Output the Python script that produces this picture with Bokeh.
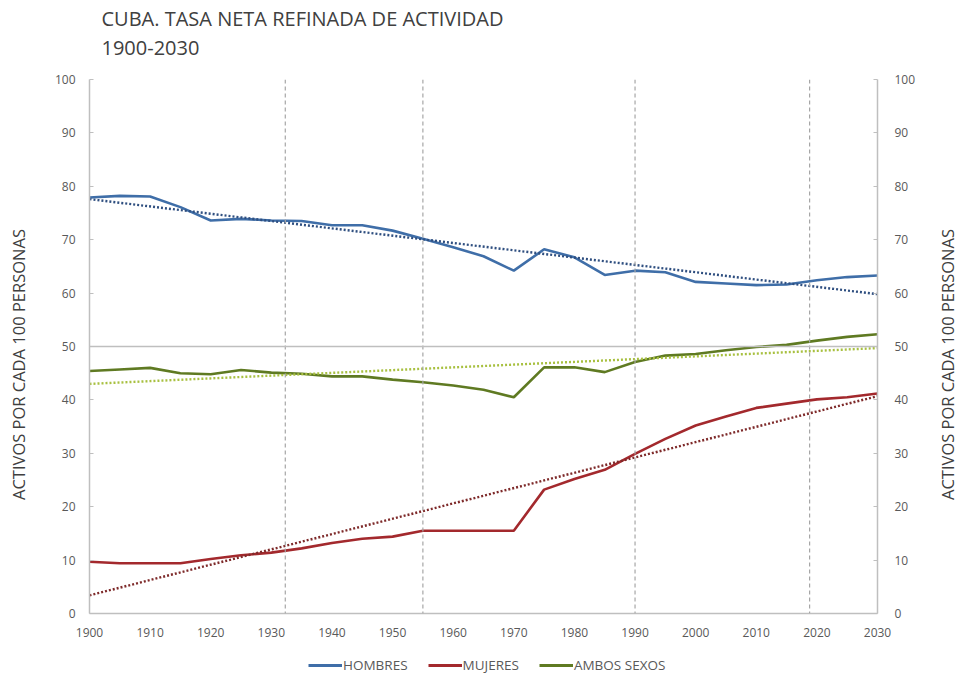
import math
from bokeh.plotting import figure
from bokeh.layouts import column, row
from bokeh.models import (Range1d, LinearAxis, Span, Legend, LegendItem, Label,
                          SingleIntervalTicker, ColumnDataSource)
from bokeh.embed import file_html
from bokeh.resources import INLINE

# ---- data ----
years = [1900, 1905, 1910, 1915, 1920, 1925, 1930, 1935, 1940, 1945, 1950, 1955,
         1960, 1965, 1970, 1975, 1980, 1985, 1990, 1995, 2000, 2005, 2010, 2015,
         2020, 2025, 2030]
hombres = [77.9, 78.2, 78.1, 76.1, 73.6, 73.9, 73.6, 73.5, 72.7, 72.7, 71.7, 70.2,
           68.6, 66.9, 64.2, 68.2, 66.7, 63.4, 64.2, 63.9, 62.1, 61.8, 61.5, 61.6,
           62.4, 63.0, 63.3]
mujeres = [9.7, 9.4, 9.4, 9.4, 10.2, 10.9, 11.4, 12.2, 13.2, 14.0, 14.4, 15.5,
           15.5, 15.5, 15.5, 23.2, 25.2, 26.9, 29.9, 32.7, 35.2, 36.9, 38.5, 39.3,
           40.1, 40.5, 41.2]
ambos = [45.4, 45.7, 46.0, 45.0, 44.8, 45.6, 45.1, 44.9, 44.4, 44.4, 43.8, 43.3,
         42.7, 41.9, 40.5, 46.1, 46.1, 45.2, 47.1, 48.3, 48.6, 49.3, 49.9, 50.3,
         51.1, 51.8, 52.3]

trend_years = [1900, 2030]
trend_hombres = [77.6, 59.8]
trend_mujeres = [3.4, 40.7]
trend_ambos = [43.0, 49.7]

period_marks = [1932.3, 1955, 1990, 2018.8]
ref_level = 50

title_line1 = "CUBA. TASA NETA REFINADA DE ACTIVIDAD"
title_line2 = "1900-2030"
y_label = "ACTIVOS POR CADA 100 PERSONAS"
series_names = ["HOMBRES", "MUJERES", "AMBOS SEXOS"]

# ---- styling ----
FONT = "Open Sans"
C_H = "#3f6ea8"
C_M = "#a3292d"
C_A = "#5f7a22"
C_TH = "#2f4f80"
C_TM = "#7e2a2a"
C_TA = "#a8c040"
GRAY = "#bfbfbf"
TXT = "#595959"
LBL = "#404040"
LABEL_SIZE = "16.5px"

TOTAL_W = 958
TF_H = 60      # title strip
MAIN_H = 592   # chart
LF_H = 22      # legend strip
LS_W = 32      # left label strip
RS_W = 30      # right label strip


def strip(w, h):
    f = figure(width=w, height=h, output_backend="svg", toolbar_location=None,
               x_range=Range1d(0, 1), y_range=Range1d(0, 1), title=None,
               x_axis_location=None, y_axis_location=None,
               min_border=0, min_border_left=0, min_border_right=0,
               min_border_top=0, min_border_bottom=0)
    f.outline_line_color = None
    f.grid.visible = False
    return f


# title strip
tf = strip(TOTAL_W, TF_H)
tf.add_layout(Label(x=101, y=42, x_units="screen", y_units="screen", text=title_line1,
                    text_font=FONT, text_font_size="20px", text_color=LBL,
                    text_baseline="alphabetic"))
tf.add_layout(Label(x=101, y=13, x_units="screen", y_units="screen", text=title_line2,
                    text_font=FONT, text_font_size="20px", text_color=LBL,
                    text_baseline="alphabetic"))

# main chart
p = figure(width=TOTAL_W - LS_W - RS_W, height=MAIN_H, output_backend="svg",
           toolbar_location=None, title=None,
           x_range=Range1d(1900, 2030), y_range=Range1d(0, 100),
           min_border_left=57, min_border_right=51, min_border_top=19,
           min_border_bottom=39)
p.outline_line_color = None
p.xgrid.visible = False
p.ygrid.visible = False
p.background_fill_color = "white"
p.border_fill_color = "white"

for loc in period_marks:
    p.add_layout(Span(location=loc, dimension="height", line_color="#a6a6a6",
                      line_dash="4 3", line_width=1.2))
p.add_layout(Span(location=ref_level, dimension="width", line_color=GRAY,
                  line_width=1.5))

src = ColumnDataSource(dict(x=years, h=hombres, m=mujeres, a=ambos))
tsrc = ColumnDataSource(dict(x=trend_years, h=trend_hombres, m=trend_mujeres,
                             a=trend_ambos))

p.line("x", "h", source=src, line_color=C_H, line_width=2.6)
p.line("x", "m", source=src, line_color=C_M, line_width=2.6)
p.line("x", "a", source=src, line_color=C_A, line_width=2.6)
p.line("x", "h", source=tsrc, line_color=C_TH, line_width=2.4, line_dash="2 2")
p.line("x", "m", source=tsrc, line_color=C_TM, line_width=2.4, line_dash="2 2")
p.line("x", "a", source=tsrc, line_color=C_TA, line_width=2.4, line_dash="2 2")


def style_y(ax, standoff):
    ax.ticker = SingleIntervalTicker(interval=10)
    ax.axis_line_color = GRAY
    ax.axis_line_width = 1.5
    ax.major_tick_line_color = GRAY
    ax.major_tick_in = 4
    ax.major_tick_out = 0
    ax.minor_tick_line_color = None
    ax.major_label_text_font = FONT
    ax.major_label_text_font_size = "12px"
    ax.major_label_text_color = TXT
    ax.major_label_standoff = standoff


style_y(p.yaxis[0], 10)
right = LinearAxis()
style_y(right, 13)
p.add_layout(right, "right")

xa = p.xaxis[0]
xa.ticker = SingleIntervalTicker(interval=10)
xa.axis_line_color = GRAY
xa.axis_line_width = 1.5
xa.major_tick_line_color = None
xa.minor_tick_line_color = None
xa.major_label_text_font = FONT
xa.major_label_text_font_size = "12px"
xa.major_label_text_color = TXT
xa.major_label_standoff = 8

# vertical axis titles (both read bottom-to-top); strips share the chart's frame
LABEL_Y = 249
ls = strip(LS_W, MAIN_H)
ls.add_layout(Label(x=18, y=LABEL_Y, x_units="screen", y_units="screen",
                    text=y_label, angle=math.pi / 2, text_align="center",
                    text_baseline="alphabetic", text_font=FONT,
                    text_font_size=LABEL_SIZE, text_color=LBL))
rs = strip(RS_W, MAIN_H)
rs.add_layout(Label(x=19, y=LABEL_Y, x_units="screen", y_units="screen",
                    text=y_label, angle=math.pi / 2, text_align="center",
                    text_baseline="alphabetic", text_font=FONT,
                    text_font_size=LABEL_SIZE, text_color=LBL))

# legend strip
lf = strip(TOTAL_W, LF_H)
lh = lf.line(x=[5, 6], y=[5, 6], line_color=C_H, line_width=3)
lm = lf.line(x=[5, 6], y=[5, 6], line_color=C_M, line_width=3)
la = lf.line(x=[5, 6], y=[5, 6], line_color=C_A, line_width=3)
legend = Legend(items=[LegendItem(label=series_names[0], renderers=[lh]),
                       LegendItem(label=series_names[1], renderers=[lm]),
                       LegendItem(label=series_names[2], renderers=[la])],
                orientation="horizontal", location=(308, 0),
                label_text_font=FONT, label_text_font_size="13.5px",
                label_text_color=TXT, glyph_width=34, glyph_height=14,
                label_standoff=1, spacing=20, border_line_color=None,
                padding=0, margin=0, background_fill_alpha=0,
                label_height=14)
lf.add_layout(legend)

layout = column(tf, row(ls, p, rs, spacing=0), lf, spacing=0)
open("out.html", "w").write(file_html(layout, INLINE))
